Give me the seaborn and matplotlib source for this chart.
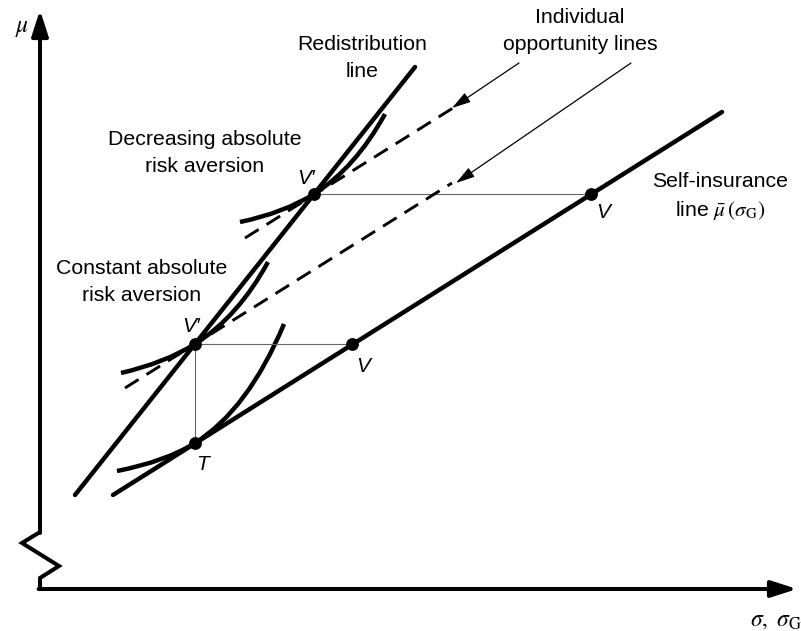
import matplotlib
matplotlib.use("Agg")
import matplotlib.pyplot as plt
import seaborn as sns
import numpy as np
import pandas as pd
from matplotlib.path import Path
from matplotlib.patches import PathPatch

# ---------------- data (schematic coordinates, origin at axis corner) ----------------
self_ins_x = [73, 682]
self_ins_y = [94, 477]
redis_x = [35, 375]
redis_y = [94, 522]
opp_low_x = [85, 412]
opp_low_y = [201, 406]
opp_up_x = [205, 413]
opp_up_y = [351, 481]

point_names = ["T", "V\u2032", "V", "V\u2032", "V"]
point_x = [155, 155, 312, 274, 551]
point_y = [146, 245, 245, 395, 395]
label_x = [163, 151, 323, 266, 563]
label_y = [124, 263, 223, 410, 376]

# indifference curves: start, control, tangent point, control, end
curve_T_x = [77, 125.5, 155, 208.2, 244]
curve_T_y = [118, 127.4, 146, 179.5, 265]
curve_V1_x = [81, 124.9, 155, 198.3, 228]
curve_V1_y = [216, 226.1, 245, 272.3, 327]
curve_V2_x = [200, 243.9, 274, 315.5, 345]
curve_V2_y = [367, 376.1, 395, 421.1, 475]

arrow_start_x = [479, 591]
arrow_start_y = [526, 526]
arrow_tip_x = [412, 416]
arrow_tip_y = [481, 406]

axis_break_x = [0, -18, 19, 0, 0]
axis_break_y = [57, 46, 23, 11, 0]

texts = ["Individual\nopportunity lines", "Redistribution\nline",
         "Decreasing absolute\nrisk aversion", "Constant absolute\nrisk aversion",
         "Self-insurance\nline $\\bar{\\mu}\\,(\\sigma_{\\mathrm{G}})$"]
text_x = [540, 322, 165, 102, 680]
text_y = [558, 531, 436, 307, 392]

# ---------------- drawing ----------------
sns.set_theme(style="white")
plt.rcParams["font.family"] = ["Liberation Sans", "DejaVu Sans"]
plt.rcParams["mathtext.fontset"] = "stix"

fig = plt.figure(figsize=(8.01, 6.31), dpi=100)
ax = fig.add_axes([0, 0, 1, 1])
ax.set_xlim(-40, 761)
ax.set_ylim(-42, 589)
ax.axis("off")

K = "black"
thick = 3.2

def seg(xs, ys, **kw):
    sns.lineplot(x=xs, y=ys, ax=ax, sort=False, estimator=None, color=kw.pop("color", K), **kw)

# axes
seg(axis_break_x, axis_break_y, lw=2.9, solid_joinstyle="miter")
ax.annotate("", xy=(0, 579), xytext=(0, 56),
            arrowprops=dict(arrowstyle="-|>,head_length=1.55,head_width=0.5", mutation_scale=10,
                            color=K, lw=2.9, shrinkA=0, shrinkB=0))
ax.annotate("", xy=(757, 0), xytext=(-1.4, 0),
            arrowprops=dict(arrowstyle="-|>,head_length=1.55,head_width=0.5", mutation_scale=10,
                            color=K, lw=2.9, shrinkA=0, shrinkB=0))

# thin connectors
seg([point_x[3], point_x[4]], [point_y[3], point_y[4]], lw=0.8, color="#666666")
seg([point_x[1], point_x[2]], [point_y[1], point_y[2]], lw=0.8, color="#666666")
seg([point_x[1], point_x[0]], [point_y[1], point_y[0]], lw=0.8, color="#666666")

# main lines
seg(self_ins_x, self_ins_y, lw=thick)
seg(redis_x, redis_y, lw=thick)
seg(opp_low_x, opp_low_y, lw=2.1, linestyle=(0, (5.5, 3.2)))
seg(opp_up_x, opp_up_y, lw=2.1, linestyle=(0, (5.5, 3.2)))

# indifference curves
codes = [Path.MOVETO, Path.CURVE3, Path.CURVE3, Path.CURVE3, Path.CURVE3]
for cx, cy in [(curve_T_x, curve_T_y), (curve_V1_x, curve_V1_y), (curve_V2_x, curve_V2_y)]:
    p = Path(np.column_stack([cx, cy]), codes)
    ax.add_patch(PathPatch(p, facecolor="none", edgecolor=K, lw=thick))

# arrows for opportunity lines
for sx, sy, tx, ty in zip(arrow_start_x, arrow_start_y, arrow_tip_x, arrow_tip_y):
    ax.annotate("", xy=(tx, ty), xytext=(sx, sy),
                arrowprops=dict(arrowstyle="-|>,head_length=1.15,head_width=0.33", mutation_scale=10,
                                color=K, lw=0.9, shrinkA=0, shrinkB=0))

# points
sns.scatterplot(x=point_x, y=point_y, ax=ax, color=K, s=85, edgecolor=K, linewidth=0, zorder=5)
for name, lx, ly in zip(point_names, label_x, label_y):
    ax.text(lx, ly, name, fontsize=15, style="italic", ha="center", va="center", color=K)

# texts
for t, tx, ty in zip(texts, text_x, text_y):
    ax.text(tx, ty, t, fontsize=15.3, ha="center", va="center", linespacing=1.5, color=K)

ax.text(-18, 561, r"$\mu$", fontsize=17, ha="center", va="center", color=K)
ax.text(736, -31, r"$\sigma,\ \sigma_{\mathrm{G}}$", fontsize=17, ha="center", va="center", color=K)

fig.savefig("out.png", dpi=100)
